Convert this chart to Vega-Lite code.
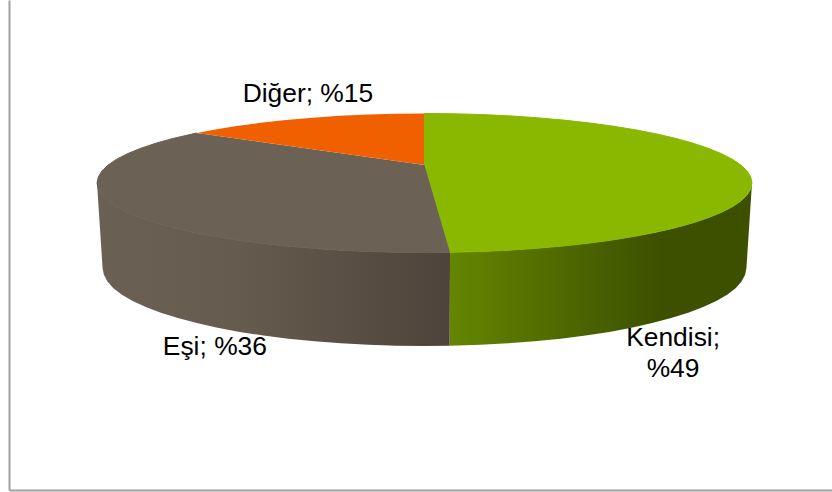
{"$schema":"https://vega.github.io/schema/vega-lite/v6.json","width":823,"height":490,"autosize":"none","padding":{"left":9,"top":0,"right":0,"bottom":2},"background":"white","config":{"view":{"stroke":null}},
"datasets":{
"sideEsi":[{"x":0.078,"y":-0.997},{"x":0,"y":-1},{"x":-0.087,"y":-0.996},{"x":-0.174,"y":-0.985},{"x":-0.259,"y":-0.966},{"x":-0.342,"y":-0.94},{"x":-0.423,"y":-0.906},{"x":-0.5,"y":-0.866},{"x":-0.574,"y":-0.819},{"x":-0.643,"y":-0.766},{"x":-0.707,"y":-0.707},{"x":-0.766,"y":-0.643},{"x":-0.819,"y":-0.574},{"x":-0.866,"y":-0.5},{"x":-0.906,"y":-0.423},{"x":-0.94,"y":-0.342},{"x":-0.966,"y":-0.259},{"x":-0.985,"y":-0.174},{"x":-0.996,"y":-0.087},{"x":-1,"y":0},{"x":-0.983,"y":-1.223},{"x":-0.979,"y":-1.321},{"x":-0.968,"y":-1.418},{"x":-0.95,"y":-1.514},{"x":-0.924,"y":-1.607},{"x":-0.891,"y":-1.698},{"x":-0.851,"y":-1.784},{"x":-0.805,"y":-1.867},{"x":-0.753,"y":-1.944},{"x":-0.695,"y":-2.016},{"x":-0.632,"y":-2.082},{"x":-0.564,"y":-2.142},{"x":-0.492,"y":-2.195},{"x":-0.416,"y":-2.24},{"x":-0.336,"y":-2.278},{"x":-0.255,"y":-2.307},{"x":-0.171,"y":-2.328},{"x":-0.086,"y":-2.341},{"x":0,"y":-2.345},{"x":0.077,"y":-2.342}],
"sideKendisi":[{"x":1,"y":0},{"x":0.996,"y":-0.087},{"x":0.985,"y":-0.174},{"x":0.966,"y":-0.259},{"x":0.94,"y":-0.342},{"x":0.906,"y":-0.423},{"x":0.866,"y":-0.5},{"x":0.819,"y":-0.574},{"x":0.766,"y":-0.643},{"x":0.707,"y":-0.707},{"x":0.643,"y":-0.766},{"x":0.574,"y":-0.819},{"x":0.5,"y":-0.866},{"x":0.423,"y":-0.906},{"x":0.342,"y":-0.94},{"x":0.259,"y":-0.966},{"x":0.174,"y":-0.985},{"x":0.078,"y":-0.997},{"x":0.077,"y":-2.342},{"x":0.171,"y":-2.328},{"x":0.255,"y":-2.307},{"x":0.336,"y":-2.278},{"x":0.416,"y":-2.24},{"x":0.492,"y":-2.195},{"x":0.564,"y":-2.142},{"x":0.632,"y":-2.082},{"x":0.695,"y":-2.016},{"x":0.753,"y":-1.944},{"x":0.805,"y":-1.867},{"x":0.851,"y":-1.784},{"x":0.891,"y":-1.698},{"x":0.924,"y":-1.607},{"x":0.95,"y":-1.514},{"x":0.968,"y":-1.418},{"x":0.979,"y":-1.321},{"x":0.983,"y":-1.223}],
"topEsi":[{"x":0,"y":0.259},{"x":0.078,"y":-0.997},{"x":0,"y":-1},{"x":-0.087,"y":-0.996},{"x":-0.174,"y":-0.985},{"x":-0.259,"y":-0.966},{"x":-0.342,"y":-0.94},{"x":-0.423,"y":-0.906},{"x":-0.5,"y":-0.866},{"x":-0.574,"y":-0.819},{"x":-0.643,"y":-0.766},{"x":-0.707,"y":-0.707},{"x":-0.766,"y":-0.643},{"x":-0.819,"y":-0.574},{"x":-0.866,"y":-0.5},{"x":-0.906,"y":-0.423},{"x":-0.94,"y":-0.342},{"x":-0.966,"y":-0.259},{"x":-0.985,"y":-0.174},{"x":-0.996,"y":-0.087},{"x":-1,"y":0},{"x":-0.996,"y":0.087},{"x":-0.985,"y":0.174},{"x":-0.966,"y":0.259},{"x":-0.94,"y":0.342},{"x":-0.906,"y":0.423},{"x":-0.866,"y":0.5},{"x":-0.819,"y":0.574},{"x":-0.766,"y":0.643},{"x":-0.707,"y":0.707},{"x":-0.695,"y":0.719}],
"topDiger":[{"x":0,"y":0.259},{"x":-0.695,"y":0.719},{"x":-0.643,"y":0.766},{"x":-0.574,"y":0.819},{"x":-0.5,"y":0.866},{"x":-0.423,"y":0.906},{"x":-0.342,"y":0.94},{"x":-0.259,"y":0.966},{"x":-0.174,"y":0.985},{"x":-0.087,"y":0.996},{"x":0,"y":1}],
"topKendisi":[{"x":0,"y":0.259},{"x":0,"y":1},{"x":0.087,"y":0.996},{"x":0.174,"y":0.985},{"x":0.259,"y":0.966},{"x":0.342,"y":0.94},{"x":0.423,"y":0.906},{"x":0.5,"y":0.866},{"x":0.574,"y":0.819},{"x":0.643,"y":0.766},{"x":0.707,"y":0.707},{"x":0.766,"y":0.643},{"x":0.819,"y":0.574},{"x":0.866,"y":0.5},{"x":0.906,"y":0.423},{"x":0.94,"y":0.342},{"x":0.966,"y":0.259},{"x":0.985,"y":0.174},{"x":0.996,"y":0.087},{"x":1,"y":0},{"x":0.996,"y":-0.087},{"x":0.985,"y":-0.174},{"x":0.966,"y":-0.259},{"x":0.94,"y":-0.342},{"x":0.906,"y":-0.423},{"x":0.866,"y":-0.5},{"x":0.819,"y":-0.574},{"x":0.766,"y":-0.643},{"x":0.707,"y":-0.707},{"x":0.643,"y":-0.766},{"x":0.574,"y":-0.819},{"x":0.5,"y":-0.866},{"x":0.423,"y":-0.906},{"x":0.342,"y":-0.94},{"x":0.259,"y":-0.966},{"x":0.174,"y":-0.985},{"x":0.078,"y":-0.997}],
"labels":[{"sector":"Kendisi","share":49,"label":"Kendisi;\n%49","x":0.759,"y":-2.345},{"sector":"Eşi","share":36,"label":"Eşi; %36","x":-0.64,"y":-2.475},{"sector":"Diğer","share":15,"label":"Diğer; %15","x":-0.356,"y":1.165}]
},
"encoding":{
"x":{"field":"x","type":"quantitative","scale":{"domain":[-1.2687,1.2443],"nice":false,"zero":false},"axis":{"title":null,"labels":false,"ticks":false,"grid":false,"domainColor":"#a0a0a0","domainWidth":2}},
"y":{"field":"y","type":"quantitative","scale":{"domain":[-4.417,2.633],"nice":false,"zero":false},"axis":{"title":null,"labels":false,"ticks":false,"grid":false,"domainColor":"#a0a0a0","domainWidth":2}}
},
"layer":[
{"data":{"name":"sideEsi"},"mark":{"type":"line","strokeWidth":0,"fill":{"gradient":"linear","x1":0,"y1":0,"x2":1,"y2":0,"stops":[{"offset":0,"color":"#6a6054"},{"offset":0.4,"color":"#655b4e"},{"offset":1,"color":"#4e443b"}]}},"encoding":{"order":{"value":null}}},
{"data":{"name":"sideKendisi"},"mark":{"type":"line","strokeWidth":0,"fill":{"gradient":"linear","x1":0,"y1":0,"x2":1,"y2":0,"stops":[{"offset":0,"color":"#648600"},{"offset":0.7,"color":"#3c5000"},{"offset":1,"color":"#3c5000"}]}},"encoding":{"order":{"value":null}}},
{"data":{"name":"topEsi"},"mark":{"type":"line","strokeWidth":1,"stroke":"#6b6155","fill":"#6b6155"},"encoding":{"order":{"value":null}}},
{"data":{"name":"topDiger"},"mark":{"type":"line","strokeWidth":0,"fill":"#f06000"},"encoding":{"order":{"value":null}}},
{"data":{"name":"topKendisi"},"mark":{"type":"line","strokeWidth":1,"stroke":"#8ab800","fill":"#8ab800"},"encoding":{"order":{"value":null}}},
{"data":{"name":"labels"},"mark":{"type":"text","font":"Liberation Sans","fontSize":26.4,"color":"#000000","align":"center","baseline":"alphabetic","lineBreak":"\n","lineHeight":31},"encoding":{"text":{"field":"label"}}}
]}
